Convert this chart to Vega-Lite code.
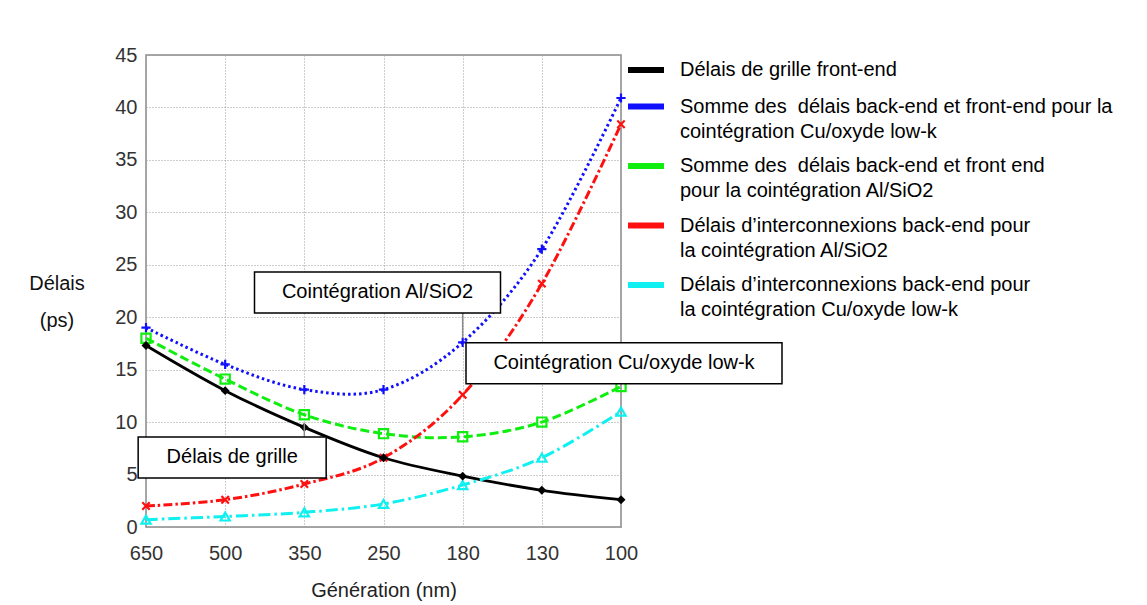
{
  "$schema": "https://vega.github.io/schema/vega-lite/v6.json",
  "autosize": {"type": "none"},
  "width": 475,
  "height": 472,
  "padding": {"left": 146, "top": 55, "right": 526, "bottom": 78},
  "background": "white",
  "config": {
    "font": "Liberation Sans",
    "view": {"stroke": "#8a8a8a", "strokeWidth": 1.5},
    "axis": {
      "labelFont": "Liberation Sans",
      "titleFont": "Liberation Sans",
      "labelFontSize": 20,
      "labelColor": "#333333",
      "titleColor": "#222222",
      "titleFontWeight": "normal",
      "titleFontSize": 20,
      "domain": false,
      "ticks": false,
      "gridColor": "#9a9a9a",
      "gridDash": [1, 2],
      "gridWidth": 1
    }
  },
  "datasets": {
    "delais": [
      {"gen": "650", "series": "Délais de grille front-end", "delay": 17.3},
      {"gen": "500", "series": "Délais de grille front-end", "delay": 13.0},
      {"gen": "350", "series": "Délais de grille front-end", "delay": 9.5},
      {"gen": "250", "series": "Délais de grille front-end", "delay": 6.6},
      {"gen": "180", "series": "Délais de grille front-end", "delay": 4.85},
      {"gen": "130", "series": "Délais de grille front-end", "delay": 3.5},
      {"gen": "100", "series": "Délais de grille front-end", "delay": 2.6},
      {"gen": "650", "series": "Somme des  délais back-end et front-end pour la\ncointégration Cu/oxyde low-k", "delay": 19.0},
      {"gen": "500", "series": "Somme des  délais back-end et front-end pour la\ncointégration Cu/oxyde low-k", "delay": 15.5},
      {"gen": "350", "series": "Somme des  délais back-end et front-end pour la\ncointégration Cu/oxyde low-k", "delay": 13.1},
      {"gen": "250", "series": "Somme des  délais back-end et front-end pour la\ncointégration Cu/oxyde low-k", "delay": 13.1},
      {"gen": "180", "series": "Somme des  délais back-end et front-end pour la\ncointégration Cu/oxyde low-k", "delay": 17.6},
      {"gen": "130", "series": "Somme des  délais back-end et front-end pour la\ncointégration Cu/oxyde low-k", "delay": 26.5},
      {"gen": "100", "series": "Somme des  délais back-end et front-end pour la\ncointégration Cu/oxyde low-k", "delay": 40.9},
      {"gen": "650", "series": "Somme des  délais back-end et front end\npour la cointégration Al/SiO2", "delay": 18.0},
      {"gen": "500", "series": "Somme des  délais back-end et front end\npour la cointégration Al/SiO2", "delay": 14.1},
      {"gen": "350", "series": "Somme des  délais back-end et front end\npour la cointégration Al/SiO2", "delay": 10.7},
      {"gen": "250", "series": "Somme des  délais back-end et front end\npour la cointégration Al/SiO2", "delay": 8.9},
      {"gen": "180", "series": "Somme des  délais back-end et front end\npour la cointégration Al/SiO2", "delay": 8.6},
      {"gen": "130", "series": "Somme des  délais back-end et front end\npour la cointégration Al/SiO2", "delay": 10.0},
      {"gen": "100", "series": "Somme des  délais back-end et front end\npour la cointégration Al/SiO2", "delay": 13.4},
      {"gen": "650", "series": "Délais d’interconnexions back-end pour\nla cointégration Al/SiO2", "delay": 2.0},
      {"gen": "500", "series": "Délais d’interconnexions back-end pour\nla cointégration Al/SiO2", "delay": 2.6},
      {"gen": "350", "series": "Délais d’interconnexions back-end pour\nla cointégration Al/SiO2", "delay": 4.1},
      {"gen": "250", "series": "Délais d’interconnexions back-end pour\nla cointégration Al/SiO2", "delay": 6.6},
      {"gen": "180", "series": "Délais d’interconnexions back-end pour\nla cointégration Al/SiO2", "delay": 12.6},
      {"gen": "130", "series": "Délais d’interconnexions back-end pour\nla cointégration Al/SiO2", "delay": 23.2},
      {"gen": "100", "series": "Délais d’interconnexions back-end pour\nla cointégration Al/SiO2", "delay": 38.4},
      {"gen": "650", "series": "Délais d’interconnexions back-end pour\nla cointégration Cu/oxyde low-k", "delay": 0.7},
      {"gen": "500", "series": "Délais d’interconnexions back-end pour\nla cointégration Cu/oxyde low-k", "delay": 1.0},
      {"gen": "350", "series": "Délais d’interconnexions back-end pour\nla cointégration Cu/oxyde low-k", "delay": 1.4},
      {"gen": "250", "series": "Délais d’interconnexions back-end pour\nla cointégration Cu/oxyde low-k", "delay": 2.2},
      {"gen": "180", "series": "Délais d’interconnexions back-end pour\nla cointégration Cu/oxyde low-k", "delay": 4.0},
      {"gen": "130", "series": "Délais d’interconnexions back-end pour\nla cointégration Cu/oxyde low-k", "delay": 6.6},
      {"gen": "100", "series": "Délais d’interconnexions back-end pour\nla cointégration Cu/oxyde low-k", "delay": 11.0}
    ],
    "notes": [
      {"label": "Cointégration Al/SiO2", "gen": "250", "delay": 22.36},
      {"label": "Cointégration Cu/oxyde low-k", "gen": "100", "delay": 15.6},
      {"label": "Délais de grille", "gen": "500", "delay": 6.63}
    ],
    "links": [
      {"gen": "180", "from": 20.4, "to": 18.0},
      {"gen": "350", "from": 8.6, "to": 9.9}
    ]
  },
  "encoding": {
    "x": {
      "field": "gen",
      "type": "ordinal",
      "sort": ["650", "500", "350", "250", "180", "130", "100"],
      "scale": {"type": "point", "padding": 0},
      "axis": {"title": "Génération (nm)", "labelAngle": 0, "labelPadding": 16, "titlePadding": 17, "grid": true}
    },
    "y": {
      "field": "delay",
      "type": "quantitative",
      "scale": {"domain": [0, 45], "nice": false},
      "axis": {
        "values": [0, 5, 10, 15, 20, 25, 30, 35, 40, 45],
        "labelPadding": 9,
        "grid": true,
        "title": ["Délais", "(ps)"],
        "titleAngle": 0,
        "titleAlign": "center",
        "titleBaseline": "top",
        "titleX": -89.5,
        "titleY": 218,
        "titleLineHeight": 37,
        "titleColor": "#111111"
      }
    }
  },
  "resolve": {"legend": {"color": "independent", "shape": "independent"}},
  "layer": [
    {
      "data": {"name": "delais"},
      "transform": [{"filter": "datum.series === 'Délais de grille front-end'"}],
      "mark": {"type": "line", "interpolate": "cardinal", "strokeWidth": 2.8},
      "encoding": {
        "color": {
          "field": "series",
          "type": "nominal",
          "scale": {
            "domain": [
              "Délais de grille front-end",
              "Somme des  délais back-end et front-end pour la\ncointégration Cu/oxyde low-k",
              "Somme des  délais back-end et front end\npour la cointégration Al/SiO2",
              "Délais d’interconnexions back-end pour\nla cointégration Al/SiO2",
              "Délais d’interconnexions back-end pour\nla cointégration Cu/oxyde low-k"
            ],
            "range": ["#000000", "#1010ff", "#10ee10", "#ff1010", "#10f0f0"]
          },
          "legend": {
            "title": null,
            "orient": "none",
            "legendX": 479,
            "legendY": -6,
            "values": [
              "Délais de grille front-end",
              "Somme des  délais back-end et front-end pour la\ncointégration Cu/oxyde low-k",
              "Somme des  délais back-end et front end\npour la cointégration Al/SiO2",
              "Délais d’interconnexions back-end pour\nla cointégration Al/SiO2",
              "Délais d’interconnexions back-end pour\nla cointégration Cu/oxyde low-k"
            ],
            "symbolType": "stroke",
            "symbolSize": 1296,
            "symbolStrokeWidth": 6,
            "symbolDash": [1, 0],
            "labelFont": "Liberation Sans",
            "labelFontSize": 20,
            "labelColor": "#000000",
            "labelLimit": 600,
            "labelOffset": 13,
            "labelBaseline": "middle",
            "labelExpr": "split(replace(datum.label, 'des  d', 'des\u00a0 d'), '\\n')",
            "rowPadding": 3.5,
            "encode": {
              "labels": {
                "update": {"lineHeight": {"value": 25}}
              }
            }
          }
        }
      }
    },
    {
      "data": {"name": "delais"},
      "transform": [{"filter": "indexof(datum.series, 'Cu/oxyde') > 0 && indexof(datum.series, 'Somme') === 0"}],
      "mark": {"type": "line", "interpolate": "cardinal", "strokeWidth": 3, "strokeDash": [2.5, 3]},
      "encoding": {"color": {"field": "series", "type": "nominal", "legend": null}}
    },
    {
      "data": {"name": "delais"},
      "transform": [{"filter": "indexof(datum.series, 'Al/SiO2') > 0 && indexof(datum.series, 'Somme') === 0"}],
      "mark": {"type": "line", "interpolate": "cardinal", "strokeWidth": 3, "strokeDash": [9, 4]},
      "encoding": {"color": {"field": "series", "type": "nominal", "legend": null}}
    },
    {
      "data": {"name": "delais"},
      "transform": [{"filter": "indexof(datum.series, 'Al/SiO2') > 0 && indexof(datum.series, 'interconnexions') > 0"}],
      "mark": {"type": "line", "interpolate": "cardinal", "strokeWidth": 3, "strokeDash": [9, 3, 2.5, 3]},
      "encoding": {"color": {"field": "series", "type": "nominal", "legend": null}}
    },
    {
      "data": {"name": "delais"},
      "transform": [{"filter": "indexof(datum.series, 'Cu/oxyde') > 0 && indexof(datum.series, 'interconnexions') > 0"}],
      "mark": {"type": "line", "interpolate": "cardinal", "strokeWidth": 3, "strokeDash": [12, 4, 2.5, 4]},
      "encoding": {"color": {"field": "series", "type": "nominal", "legend": null}}
    },
    {
      "data": {"name": "delais"},
      "transform": [{"filter": "datum.series !== 'Délais de grille front-end'"}],
      "mark": {"type": "point", "filled": false, "strokeWidth": 2.2, "size": 85, "opacity": 1},
      "encoding": {
        "color": {"field": "series", "type": "nominal", "legend": null},
        "shape": {
          "field": "series",
          "type": "nominal",
          "scale": {
            "domain": [
              "Délais de grille front-end",
              "Somme des  délais back-end et front-end pour la\ncointégration Cu/oxyde low-k",
              "Somme des  délais back-end et front end\npour la cointégration Al/SiO2",
              "Délais d’interconnexions back-end pour\nla cointégration Al/SiO2",
              "Délais d’interconnexions back-end pour\nla cointégration Cu/oxyde low-k"
            ],
            "range": ["diamond", "M-1,0L1,0M0,-1L0,1", "square", "M-0.8,-0.8L0.8,0.8M-0.8,0.8L0.8,-0.8", "triangle-up"]
          },
          "legend": null
        }
      }
    },
    {
      "data": {"name": "delais"},
      "transform": [{"filter": "datum.series === 'Délais de grille front-end'"}],
      "mark": {"type": "point", "shape": "diamond", "filled": true, "size": 80, "opacity": 1, "color": "#000000"}
    },
    {
      "data": {"name": "links"},
      "mark": {"type": "rule", "color": "#8a8a8a", "strokeWidth": 1.5},
      "encoding": {
        "y": {"field": "from", "type": "quantitative"},
        "y2": {"field": "to"}
      }
    },
    {
      "data": {"name": "notes"},
      "transform": [{"filter": "datum.label === 'Cointégration Al/SiO2'"}],
      "layer": [
        {"mark": {"type": "rect", "width": 246, "height": 41, "fill": "white", "stroke": "black", "strokeWidth": 1.5, "xOffset": -6}},
        {"mark": {"type": "text", "fontSize": 20, "font": "Liberation Sans", "color": "black", "xOffset": -6}, "encoding": {"text": {"field": "label"}}}
      ]
    },
    {
      "data": {"name": "notes"},
      "transform": [{"filter": "datum.label === 'Cointégration Cu/oxyde low-k'"}],
      "layer": [
        {"mark": {"type": "rect", "width": 316, "height": 41, "fill": "white", "stroke": "black", "strokeWidth": 1.5, "xOffset": 3}},
        {"mark": {"type": "text", "fontSize": 20, "font": "Liberation Sans", "color": "black", "xOffset": 3}, "encoding": {"text": {"field": "label"}}}
      ]
    },
    {
      "data": {"name": "notes"},
      "transform": [{"filter": "datum.label === 'Délais de grille'"}],
      "layer": [
        {"mark": {"type": "rect", "width": 188, "height": 41, "fill": "white", "stroke": "black", "strokeWidth": 1.5, "xOffset": 7}},
        {"mark": {"type": "text", "fontSize": 20, "font": "Liberation Sans", "color": "black", "xOffset": 7}, "encoding": {"text": {"field": "label"}}}
      ]
    }
  ]
}
